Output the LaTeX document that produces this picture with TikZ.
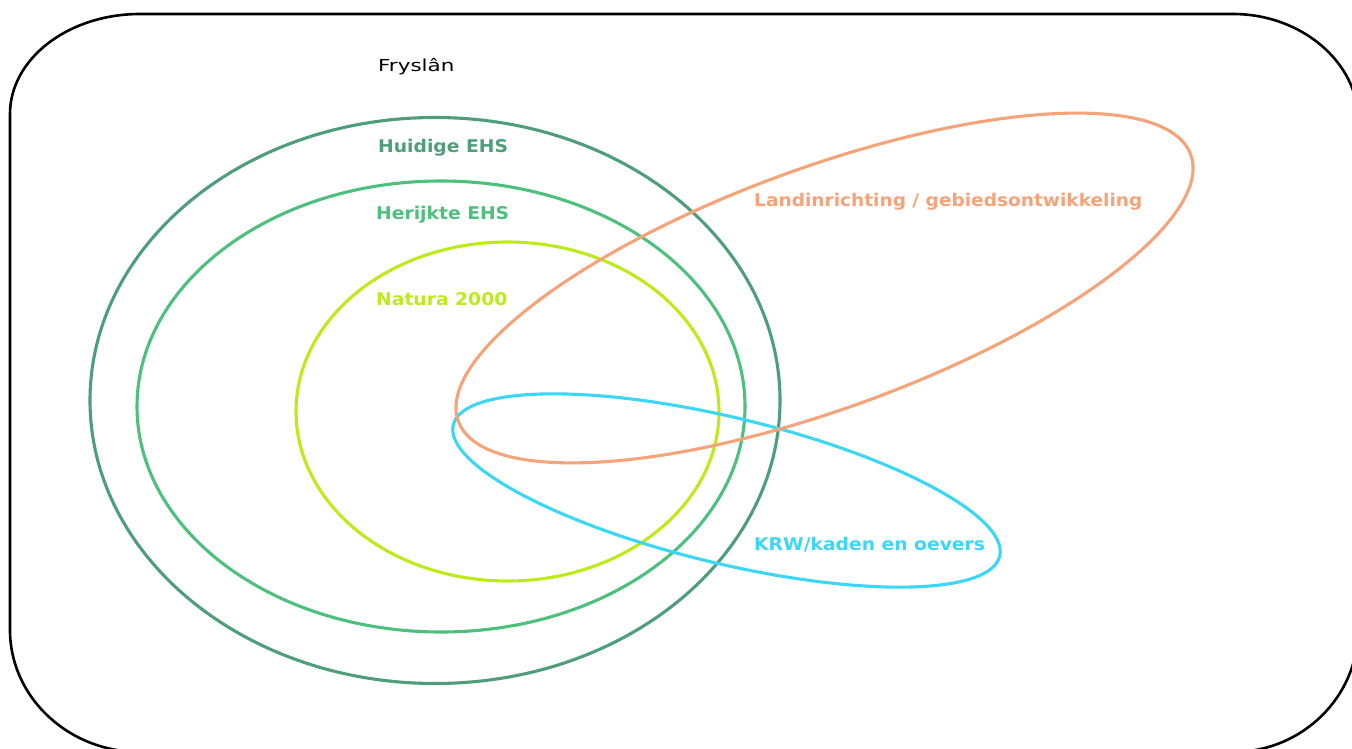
\documentclass[tikz,border=0pt]{standalone}
\usepackage{fontspec}
\setmainfont{DejaVu Sans}
\newcommand{\wide}[2]{\scalebox{#1}[1]{#2}}
\begin{document}
\begin{tikzpicture}[x=1pt,y=-1pt,
  ring/.style={line width=3.1pt},
  lbl/.style={font=\fontsize{17.5}{20}\selectfont\bfseries, anchor=west, inner sep=0pt},
  huidig/.style={color=cHuid},
  herijk/.style={color=cHer},
  natura/.style={color=cNat},
  landin/.style={color=cLand},
  krw/.style={color=cKrw}]
\definecolor{cHuid}{HTML}{4E9E7B}
\definecolor{cHer}{HTML}{4DC07D}
\definecolor{cNat}{HTML}{BDEB18}
\definecolor{cLand}{HTML}{F5A47A}
\definecolor{cKrw}{HTML}{3CD6F6}
\useasboundingbox (0,0) rectangle (1352,749);
\clip (0,0) rectangle (1352,749);
\fill[white] (0,0) rectangle (1352,749);
% outer frame
\draw[line width=2.6pt, black]
  (10,114) .. controls (10,58.8) and (68.2,14) .. (140,14)
  -- (1233,14) .. controls (1302,14) and (1358,63) .. (1358,119)
  -- (1358,630) .. controls (1358,697) and (1302,752) .. (1233,752)
  -- (140,752) .. controls (68.2,752) and (10,697) .. (10,630) -- cycle;
% ellipses
\draw[ring, cHuid] (435,400.5) ellipse [x radius=345, y radius=283];
\draw[ring, cHer] (441,406.5) ellipse [x radius=304, y radius=225.5];
\draw[ring, cNat] (507.5,411.5) ellipse [x radius=211.5, y radius=169.5];
\draw[ring, cKrw] (726.5,490.5) ellipse [x radius=281, y radius=73, rotate=-13.5];
\draw[ring, cLand] (824.5,288) ellipse [x radius=389.7, y radius=120.5, rotate=20];
% labels
\node[anchor=west, inner sep=0pt, font=\fontsize{16.5}{20}\selectfont] (frys) at (378,67) {\wide{1.3}{Fryslân}};
\node[lbl, huidig] (huid) at (378,148) {\wide{1.07}{Huidige EHS}};
\node[lbl, herijk] (her) at (376,215) {\wide{1.07}{Herijkte EHS}};
\node[lbl, natura] (nat) at (376,299) {\wide{1.07}{Natura 2000}};
\node[lbl, landin] (land) at (754,202) {\wide{1.06}{Landinrichting / gebiedsontwikkeling}};
\node[lbl, krw] (krwl) at (754,545) {\wide{1.07}{KRW/kaden en oevers}};
\end{tikzpicture}
\end{document}
